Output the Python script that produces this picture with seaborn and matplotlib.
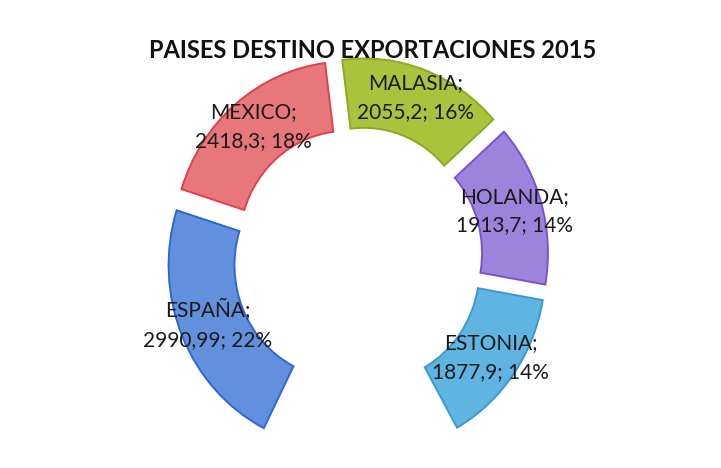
import matplotlib
matplotlib.use("Agg")
import matplotlib.pyplot as plt
import seaborn as sns

# datos (el sector inferior queda sin relleno)
paises = ["MALASIA", "HOLANDA", "ESTONIA", "", "ESPAÑA", "MEXICO"]
valores = [2055.2, 1913.7, 1877.9, 2080.0, 2990.99, 2418.3]
etiquetas_valor = ["2055,2", "1913,7", "1877,9", "", "2990,99", "2418,3"]
porcentajes = [16, 14, 14, None, 22, 18]

colores = ["#a9c43c", "#9c84dc", "#5fb4e2", "none", "#6290dc", "#e8777c"]
bordes = ["#8eaa22", "#7a52cc", "#3a9ad0", "none", "#2f66d0", "#e0404a"]

sns.set_theme(style="white")
plt.rcParams["font.family"] = ["Lato", "DejaVu Sans"]

fig = plt.figure(figsize=(7.21, 4.68), dpi=100)
# la foto esta algo estirada en vertical
ax = fig.add_axes([0.1959, -0.039, 0.601, 0.975])

labels = []
for p, v, pc in zip(paises, etiquetas_valor, porcentajes):
    labels.append(f"{p};\n{v}; {pc}%" if p else "")

wedges, texts = ax.pie(
    valores, labels=labels, colors=colores, startangle=97.2, counterclock=False,
    explode=[0.1] * len(valores), labeldistance=0.84, radius=1,
    wedgeprops=dict(width=0.38, linewidth=1.4),
    textprops=dict(fontsize=15, color="#1a1a1a", linespacing=1.55),
)
for w, b in zip(wedges, bordes):
    w.set_edgecolor(b)
for t in texts:
    t.set_ha("center")
    t.set_va("center")

ax.set_xlim(-1.25, 1.25)
ax.set_ylim(-1.25, 1.25)
ax.set_aspect("auto")
ax.axis("off")

fig.text(0.517, 0.893, "PAISES DESTINO EXPORTACIONES 2015", ha="center", va="center",
         fontsize=17, fontweight="bold", color="#111111")

fig.savefig("out.png", dpi=100, facecolor="white")
